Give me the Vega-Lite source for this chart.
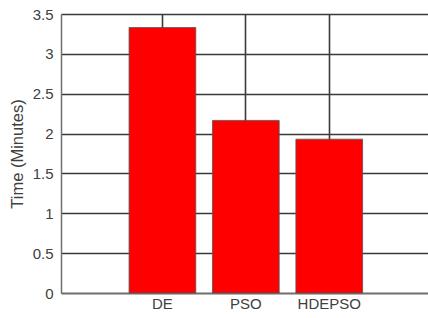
{
  "$schema": "https://vega.github.io/schema/vega-lite/v6.json",
  "autosize": {"type": "none"},
  "padding": {"left": 61, "top": 14, "right": 0, "bottom": 25},
  "width": 367,
  "height": 279,
  "background": "white",
  "config": {
    "view": {"stroke": null},
    "axis": {
      "labelFont": "Liberation Sans",
      "titleFont": "Liberation Sans",
      "labelColor": "#404040",
      "titleColor": "#404040",
      "labelFontSize": 15,
      "titleFontSize": 16.5,
      "titleFontWeight": "normal",
      "domainColor": "#707070",
      "domainWidth": 1.5,
      "gridColor": "#3a3a3a",
      "gridWidth": 1.6,
      "gridOpacity": 1
    }
  },
  "data": {
    "values": [
      {"method": "DE", "time": 3.33},
      {"method": "PSO", "time": 2.165},
      {"method": "HDEPSO", "time": 1.93}
    ]
  },
  "mark": {"type": "bar", "color": "#ff0000", "stroke": "#555555", "strokeWidth": 0.8},
  "encoding": {
    "x": {
      "field": "method",
      "type": "nominal",
      "sort": null,
      "scale": {"paddingInner": 0.2, "paddingOuter": 0.8, "align": 0.51},
      "axis": {
        "title": null,
        "labelAngle": 0,
        "labelPadding": 8,
        "grid": true,
        "ticks": true,
        "tickSize": -5,
        "tickColor": "#555555",
        "tickWidth": 1,
        "domain": true
      }
    },
    "y": {
      "field": "time",
      "type": "quantitative",
      "scale": {"domain": [0, 3.5], "nice": false},
      "axis": {
        "title": "Time (Minutes)",
        "values": [0, 0.5, 1, 1.5, 2, 2.5, 3, 3.5],
        "labelExpr": "datum.value + ''",
        "labelPadding": 8,
        "titlePadding": 7,
        "ticks": false,
        "grid": true,
        "domain": true
      }
    }
  }
}
